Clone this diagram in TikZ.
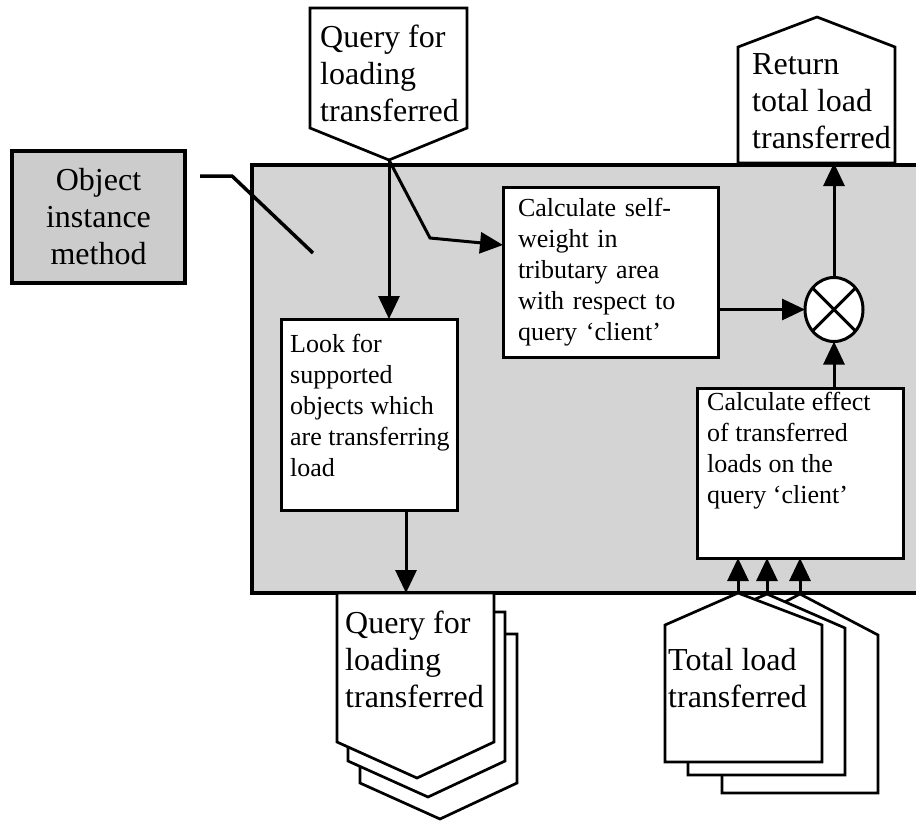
\documentclass[tikz,border=0pt]{standalone}
\usepackage{fontspec}
\setmainfont{Liberation Serif}
\usetikzlibrary{arrows.meta}
\usetikzlibrary{positioning}
\usetikzlibrary{shapes.geometric}
\tikzstyle{block}=[draw,fill=white,line width=3pt,inner sep=0pt,outer sep=0pt,anchor=north west]
\tikzstyle{doc}=[draw,fill=white,line width=2.7pt,line join=miter]
\tikzstyle{txt}=[inner sep=0pt,anchor=north west,align=left]
\tikzstyle{arr}=[line width=3pt,-{Triangle[length=23pt,width=21pt]}]
\newcommand{\bigtxt}{\fontsize{32}{37}\selectfont}
\newcommand{\smalltxt}{\fontsize{26}{31}\selectfont}

\begin{document}
\begin{tikzpicture}[x=1pt,y=-1pt]
\useasboundingbox (0,0) rectangle (916,820);
% the method box
\node[block,fill=black!17,line width=4pt,minimum width=672pt,minimum height=428pt] (method) at (252,165) {};
\node[block,fill=black!20,line width=4pt,minimum width=173pt,minimum height=132pt,
      anchor=center,align=center,font=\bigtxt] (obj) at (98.5,217) {Object\\instance\\method};
\coordinate (c1) at (200,176);
\coordinate (c2) at (232,176);
\coordinate (c3) at (313,253);
\draw[line width=3.5pt] (c1) -- (c2) -- (c3);

% incoming query
\draw[doc] (310,8) -- (467,8) -- (467,128) -- (389,160) -- (310,128) -- cycle;
\coordinate (qtip) at (389,160);
\node[txt,font=\bigtxt] (qin) at (320,25) {Query for\\loading\\transferred};

% returned value
\draw[doc] (738,163) -- (738,47) -- (817,17) -- (895,47) -- (895,163) -- cycle;
\coordinate (retbase) at (817,163);
\node[txt,font=\bigtxt] (ret) at (752,53) {Return\\total load\\transferred};

% outgoing queries
\foreach \dx/\dy in {23/41,11/19,0/0}
  \draw[doc] (337+\dx,593+\dy) -- ++(157,0) -- ++(0,149) -- ++(-77,36) -- ++(-80,-36) -- cycle;
\coordinate (bqtop) at (406,593);
\node[txt,font=\bigtxt] (qout) at (345,611) {Query for\\loading\\transferred};

% incoming loads
\draw[doc] (722,635) -- (800,594) -- (878,635) -- (878,793) -- (722,793) -- cycle;
\draw[doc] (688,628) -- (767,594) -- (845,628) -- (845,775) -- (688,775) -- cycle;
\draw[doc] (665,625) -- (738,593) -- (822,625) -- (822,762) -- (665,762) -- cycle;
\coordinate (tl1) at (738,593);
\coordinate (tl2) at (767,593);
\coordinate (tl3) at (800,593);
\node[txt,font=\bigtxt] (tload) at (668,648) {Total load\\transferred};

% steps
\node[block,minimum width=176pt,minimum height=191pt] (look) at (281,319) {};
\node[txt,font=\smalltxt] (looktxt) at (290,334) {Look for\\supported\\objects which\\are transferring\\load};
\node[block,minimum width=215pt,minimum height=170pt,text width=185pt,align=left,font=\smalltxt] (self) at (503,187)
  {Calculate self-\\weight in\\tributary area\\with respect to\\query `client'};
\node[block,minimum width=206pt,minimum height=170pt] (effect) at (697,388) {};
\node[txt,font=\smalltxt] (efftxt) at (707,392) {Calculate effect\\of transferred\\loads on the\\query `client'};
\node[draw,ellipse,fill=white,line width=3pt,inner sep=0pt,outer sep=0pt,
      minimum width=58pt,minimum height=64pt] (sum) at (834,309.5) {};
\draw[line width=3pt] (sum.45) -- (sum.225) (sum.135) -- (sum.315);

% flow
\coordinate (bend) at (430,238);
\draw[arr] (qtip) -- (qtip |- look.north);
\draw[arr] (qtip) -- (bend) -- ([yshift=-58pt]self.north west);
\draw[arr] (look.south -| bqtop) -- (bqtop);
\draw[arr] (self.east |- sum.west) -- (sum.west);
\draw[arr] (sum.north) -- (sum.north |- retbase);
\draw[arr] (effect.north -| sum.south) -- (sum.south);
\foreach \t in {tl1,tl2,tl3}
  \draw[arr] (\t) -- (\t |- effect.south);
\end{tikzpicture}
\end{document}
